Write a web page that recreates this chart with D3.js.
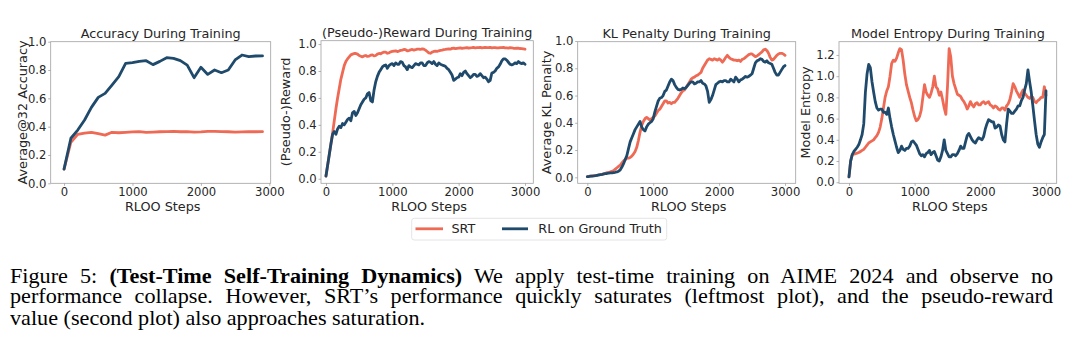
<!DOCTYPE html>
<html>
<head>
<meta charset="utf-8">
<script src="https://cdn.jsdelivr.net/npm/d3@7"></script>
<style>
  html, body { margin: 0; padding: 0; background: #fff; }
  #wrap { position: relative; width: 1080px; height: 355px; overflow: hidden; }
  svg { position: absolute; left: 0; top: 0; }
  .cap { position: absolute; left: 10px; width: 973px; font-family: "Liberation Serif", "Times New Roman", serif;
         font-size: 20.7px; line-height: 21px; color: #000; white-space: nowrap;
         transform: scaleX(1.072); transform-origin: 0 0; }
  .just { text-align: justify; text-align-last: justify; }
</style>
</head>
<body>
<div id="wrap"></div>
<script>
// ---------- DATA ----------
const seriesNames = ["SRT", "RL on Ground Truth"];
const xTicks = [0, 1000, 2000, 3000];

// Panel 1: accuracy, every 100 steps
const accSteps = [0,100,200,300,400,500,600,700,800,900,1000,1100,1200,1300,1400,1500,1600,1700,1800,1900,2000,2100,2200,2300,2400,2500,2600,2700,2800,2900];
const accSRT = [0.10,0.29,0.345,0.355,0.36,0.35,0.34,0.36,0.357,0.36,0.363,0.365,0.36,0.362,0.364,0.365,0.366,0.364,0.365,0.362,0.363,0.366,0.367,0.365,0.364,0.362,0.363,0.365,0.364,0.365];
const accRL = [0.10,0.318,0.376,0.447,0.536,0.607,0.635,0.694,0.753,0.847,0.852,0.861,0.866,0.838,0.861,0.887,0.882,0.866,0.835,0.746,0.819,0.769,0.80,0.781,0.80,0.871,0.906,0.894,0.899,0.90];
const accYTicks = [0.0,0.2,0.4,0.6,0.8,1.0];

// Panels 2-4: one value every 25 RLOO steps (0 ... 3000), 10 values per row
const steps25 = d3.range(0, 3001, 25);

const rewSRT = [
  0.02,0.10,0.18,0.26,0.34,0.43,0.52,0.60,0.67,0.74,
  0.79,0.84,0.87,0.89,0.905,0.92,0.925,0.93,0.93,0.925,
  0.915,0.91,0.905,0.912,0.915,0.908,0.91,0.918,0.92,0.912,
  0.915,0.925,0.93,0.928,0.935,0.94,0.94,0.932,0.935,0.942,
  0.945,0.948,0.95,0.944,0.948,0.953,0.955,0.96,0.958,0.95,
  0.952,0.957,0.96,0.955,0.958,0.962,0.963,0.96,0.965,0.962,
  0.955,0.945,0.935,0.932,0.94,0.945,0.948,0.945,0.95,0.953,
  0.955,0.958,0.96,0.963,0.965,0.962,0.968,0.97,0.966,0.968,
  0.97,0.972,0.968,0.97,0.972,0.974,0.97,0.972,0.973,0.975,
  0.971,0.973,0.974,0.976,0.972,0.974,0.975,0.973,0.973,0.976,
  0.972,0.974,0.974,0.971,0.971,0.974,0.973,0.975,0.972,0.971,
  0.97,0.973,0.971,0.969,0.968,0.97,0.969,0.967,0.966,0.964,
  0.962];
const rewRL = [
  0.02,0.10,0.18,0.26,0.33,0.35,0.33,0.37,0.39,0.38,
  0.41,0.40,0.42,0.44,0.45,0.43,0.49,0.50,0.47,0.49,
  0.52,0.55,0.57,0.59,0.60,0.63,0.64,0.58,0.57,0.66,
  0.72,0.76,0.79,0.81,0.83,0.84,0.845,0.82,0.84,0.85,
  0.855,0.84,0.86,0.85,0.85,0.87,0.865,0.84,0.83,0.81,
  0.84,0.83,0.825,0.84,0.855,0.85,0.845,0.86,0.86,0.84,
  0.84,0.86,0.87,0.865,0.855,0.87,0.85,0.84,0.86,0.85,
  0.845,0.84,0.835,0.82,0.81,0.79,0.77,0.73,0.74,0.75,
  0.755,0.78,0.765,0.79,0.80,0.78,0.765,0.75,0.76,0.775,
  0.775,0.76,0.765,0.78,0.765,0.75,0.755,0.74,0.72,0.73,
  0.785,0.79,0.80,0.82,0.83,0.85,0.875,0.89,0.89,0.88,
  0.865,0.85,0.845,0.85,0.86,0.855,0.87,0.86,0.855,0.86,
  0.85];
const rewYTicks = [0.0,0.2,0.4,0.6,0.8,1.0];

const klSRT = [
  0.005,0.006,0.008,0.01,0.012,0.013,0.015,0.018,0.02,0.022,
  0.025,0.03,0.035,0.037,0.04,0.045,0.05,0.06,0.07,0.08,
  0.09,0.105,0.12,0.13,0.14,0.14,0.145,0.155,0.17,0.19,
  0.22,0.27,0.33,0.38,0.41,0.43,0.44,0.43,0.42,0.43,
  0.44,0.45,0.47,0.49,0.50,0.52,0.54,0.56,0.56,0.545,
  0.55,0.54,0.55,0.55,0.565,0.58,0.60,0.62,0.635,0.64,
  0.66,0.68,0.70,0.72,0.73,0.735,0.745,0.75,0.76,0.77,
  0.80,0.82,0.84,0.86,0.87,0.865,0.86,0.87,0.865,0.86,
  0.87,0.86,0.845,0.86,0.88,0.895,0.88,0.87,0.865,0.86,
  0.86,0.855,0.86,0.85,0.865,0.87,0.88,0.89,0.90,0.905,
  0.905,0.895,0.885,0.89,0.90,0.91,0.92,0.935,0.94,0.93,
  0.91,0.88,0.86,0.865,0.88,0.895,0.905,0.91,0.91,0.905,
  0.895];
const klRL = [
  0.005,0.006,0.008,0.009,0.01,0.012,0.015,0.017,0.02,0.022,
  0.025,0.027,0.028,0.03,0.032,0.033,0.035,0.037,0.04,0.045,
  0.055,0.075,0.10,0.13,0.16,0.21,0.26,0.29,0.32,0.35,
  0.37,0.39,0.41,0.37,0.35,0.34,0.37,0.39,0.40,0.41,
  0.43,0.48,0.52,0.56,0.58,0.585,0.60,0.63,0.64,0.67,
  0.70,0.72,0.71,0.68,0.66,0.645,0.64,0.645,0.655,0.65,
  0.66,0.675,0.69,0.70,0.70,0.685,0.69,0.70,0.70,0.71,
  0.69,0.685,0.67,0.63,0.55,0.57,0.60,0.64,0.68,0.69,
  0.70,0.705,0.70,0.71,0.71,0.70,0.70,0.72,0.71,0.70,
  0.735,0.72,0.70,0.715,0.72,0.73,0.74,0.735,0.74,0.75,
  0.76,0.80,0.84,0.855,0.86,0.87,0.865,0.85,0.845,0.855,
  0.84,0.835,0.83,0.80,0.77,0.75,0.75,0.77,0.79,0.81,
  0.82];
const klYTicks = [0.0,0.2,0.4,0.6,0.8,1.0];

const entSRT = [
  0.05,0.20,0.26,0.265,0.27,0.275,0.28,0.29,0.30,0.31,
  0.33,0.35,0.37,0.38,0.39,0.40,0.42,0.44,0.47,0.52,
  0.60,0.70,0.80,0.86,0.90,1.00,1.12,1.15,1.14,1.17,
  1.22,1.26,1.25,1.15,1.02,0.92,0.86,0.80,0.75,0.68,
  0.62,0.58,0.59,0.62,0.68,0.80,0.92,0.85,0.82,0.80,
  0.84,0.90,1.00,0.90,0.88,0.82,0.85,0.78,0.70,0.64,
  0.90,1.26,1.18,1.00,0.93,0.88,0.83,0.82,0.81,0.78,
  0.76,0.73,0.69,0.72,0.76,0.73,0.71,0.74,0.75,0.73,
  0.73,0.75,0.76,0.74,0.75,0.76,0.73,0.72,0.70,0.72,
  0.71,0.69,0.68,0.70,0.70,0.68,0.72,0.74,0.78,0.85,
  0.93,0.90,0.86,0.83,0.80,0.84,0.87,0.84,0.82,0.80,
  0.79,0.81,0.80,0.76,0.75,0.77,0.78,0.80,0.80,0.90,
  0.82];
const entRL = [
  0.05,0.20,0.26,0.29,0.31,0.33,0.355,0.40,0.45,0.55,
  0.85,1.02,1.11,1.08,0.95,0.85,0.76,0.70,0.68,0.69,
  0.69,0.66,0.66,0.64,0.70,0.60,0.52,0.45,0.39,0.33,
  0.28,0.30,0.34,0.31,0.30,0.32,0.32,0.34,0.38,0.39,
  0.37,0.35,0.31,0.27,0.25,0.26,0.24,0.27,0.28,0.30,
  0.26,0.28,0.29,0.25,0.21,0.20,0.24,0.30,0.40,0.30,
  0.27,0.24,0.24,0.26,0.26,0.25,0.27,0.30,0.34,0.32,
  0.32,0.38,0.44,0.46,0.43,0.40,0.38,0.37,0.40,0.42,
  0.41,0.40,0.43,0.50,0.55,0.59,0.58,0.57,0.57,0.51,
  0.52,0.54,0.53,0.45,0.40,0.38,0.55,0.69,0.67,0.65,
  0.65,0.67,0.69,0.72,0.72,0.77,0.80,0.87,0.93,1.06,
  0.95,0.85,0.72,0.58,0.45,0.36,0.33,0.38,0.42,0.45,
  0.86];
const entYTicks = [0.0,0.2,0.4,0.6,0.8,1.0,1.2];

const titles = ["Accuracy During Training", "(Pseudo-)Reward During Training", "KL Penalty During Training", "Model Entropy During Training"];
const yLabels = ["Average@32 Accuracy", "(Pseudo-)Reward", "Average KL Penalty", "Model Entropy"];

// ---------- LAYOUT ----------
const colors = ["#ee6a55", "#1f4a6b"];
const W = 1080, H = 355;
const wrap = d3.select("#wrap");
const svg = wrap.append("svg").attr("width", W).attr("height", H);

const panels = [
  { steps: accSteps, srt: accSRT, rl: accRL, yTicks: accYTicks,
    box: [50.7, 270.7, 41.7, 183.3], xDom: [-195, 3020], yDom: [0, 1.0], ylx: 27 },
  { steps: steps25, srt: rewSRT, rl: rewRL, yTicks: rewYTicks,
    box: [321, 533.3, 40.7, 183.3], xDom: [-75, 3125], yDom: [-0.034, 1.025], ylx: 289.5 },
  { steps: steps25, srt: klSRT, rl: klRL, yTicks: klYTicks,
    box: [577.7, 795.7, 41.7, 183.3], xDom: [-146, 3162], yDom: [-0.044, 0.995], ylx: 551 },
  { steps: steps25, srt: entSRT, rl: entRL, yTicks: entYTicks,
    box: [839, 1056.7, 41.7, 183.3], xDom: [-152, 3163], yDom: [-0.01, 1.325], ylx: 809.5 }
];

const font = "DejaVu Sans, sans-serif";
const txtColor = "#262626";
const spineColor = "#a0a0a0";

panels.forEach((p, i) => {
  const [x0, x1, y0, y1] = p.box;
  const x = d3.scaleLinear().domain(p.xDom).range([x0, x1]);
  const y = d3.scaleLinear().domain(p.yDom).range([y1, y0]);
  const g = svg.append("g");

  const xa = g.append("g").attr("transform", `translate(0,${y1})`)
    .call(d3.axisBottom(x).tickValues(xTicks).tickSize(2.5).tickPadding(2).tickFormat(d3.format("d")));
  const ya = g.append("g").attr("transform", `translate(${x0},0)`)
    .call(d3.axisLeft(y).tickValues(p.yTicks).tickSize(2.5).tickPadding(1.8).tickFormat(d3.format(".1f")));
  [xa, ya].forEach(a => {
    a.select(".domain").remove();
    a.selectAll(".tick line").attr("stroke", spineColor).attr("stroke-width", 0.8);
    a.selectAll(".tick text").attr("fill", txtColor).style("font-family", font).style("font-size", "11.6px");
  });
  xa.selectAll(".tick text").attr("y", 12.4).attr("dy", 0);

  g.append("rect").attr("x", x0).attr("y", y0).attr("width", x1 - x0).attr("height", y1 - y0)
    .attr("fill", "none").attr("stroke", spineColor).attr("stroke-width", 0.8);

  [p.srt, p.rl].forEach((vals, k) => {
    const pts = p.steps.map((s, j) => [s, vals[j]]);
    g.append("path").datum(pts)
      .attr("d", d3.line().x(d => x(d[0])).y(d => y(d[1])))
      .attr("fill", "none").attr("stroke", colors[k]).attr("stroke-width", 2.8)
      .attr("stroke-linejoin", "round").attr("stroke-linecap", "round");
  });

  g.append("text").attr("x", (x0 + x1) / 2).attr("y", y0 - 4)
    .attr("text-anchor", "middle").attr("fill", txtColor)
    .style("font-family", font).style("font-size", "12.8px").text(titles[i]);
  g.append("text").attr("x", (x0 + x1) / 2 + 2).attr("y", 210.5)
    .attr("text-anchor", "middle").attr("fill", txtColor)
    .style("font-family", font).style("font-size", "12.8px").text("RLOO Steps");
  g.append("text").attr("transform", `translate(${p.ylx},${(y0 + y1) / 2}) rotate(-90)`)
    .attr("text-anchor", "middle").attr("fill", txtColor)
    .style("font-family", font).style("font-size", "12.8px").text(yLabels[i]);
});

// legend
const lg = svg.append("g");
lg.append("rect").attr("x", 411.7).attr("y", 218.3).attr("width", 255).attr("height", 21.7)
  .attr("rx", 2.5).attr("fill", "#fff").attr("stroke", "#dddddd").attr("stroke-width", 0.8);
const legItems = [{ x1: 415.5, x2: 443, tx: 451.5 }, { x1: 502, x2: 528, tx: 538.3 }];
legItems.forEach((it, k) => {
  lg.append("line").attr("x1", it.x1).attr("x2", it.x2).attr("y1", 228.8).attr("y2", 228.8)
    .attr("stroke", colors[k]).attr("stroke-width", 2.8);
  lg.append("text").attr("x", it.tx).attr("y", 233.3).attr("fill", txtColor)
    .style("font-family", font).style("font-size", "12.8px").text(seriesNames[k]);
});

// caption
const capTop = 265.6;
const l1 = wrap.append("div").attr("class", "cap just").style("top", capTop + "px");
l1.append("span").text("Figure 5: ");
l1.append("b").text("(Test-Time Self-Training Dynamics)");
l1.append("span").text(" We apply test-time training on AIME 2024 and observe no");
wrap.append("div").attr("class", "cap just").style("top", (capTop + 20.8) + "px")
  .text("performance collapse. However, SRT\u2019s performance quickly saturates (leftmost plot), and the pseudo-reward");
wrap.append("div").attr("class", "cap").style("top", (capTop + 42.4) + "px")
  .text("value (second plot) also approaches saturation.");
</script>
</body>
</html>
